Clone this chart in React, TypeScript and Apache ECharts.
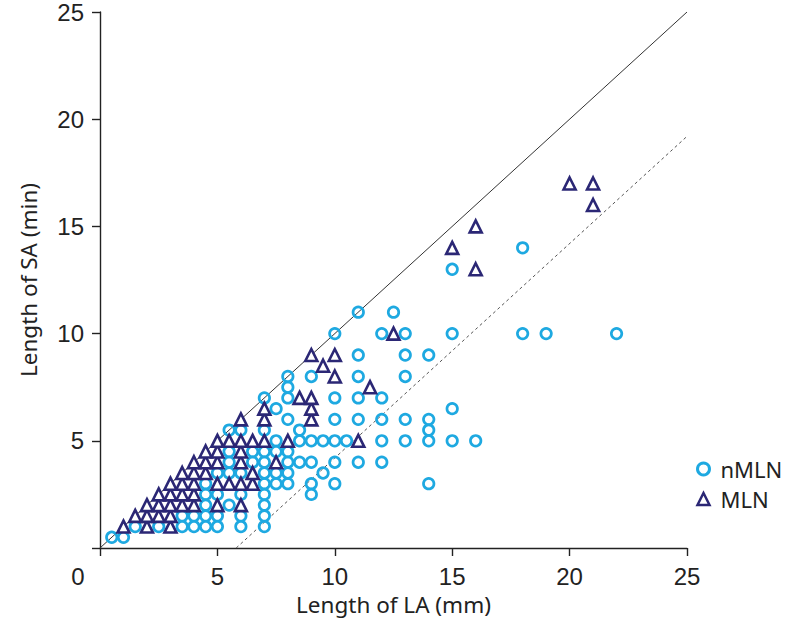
import React, { useEffect, useRef } from 'react';
import * as echarts from 'echarts';

const axisTicks = [0, 5, 10, 15, 20, 25];

// nMLN (circles): [Length of LA (mm), Length of SA (min)]
const nmlnPoints: [number, number][] = [
  [0.5, 0.5], [1, 0.5],
  [1.5, 1], [2.5, 1], [3.5, 1], [4, 1], [4.5, 1], [5, 1], [6, 1], [7, 1],
  [3.5, 1.5], [4, 1.5], [4.5, 1.5], [5, 1.5], [6, 1.5], [7, 1.5],
  [4.5, 2], [5.5, 2], [7, 2],
  [4.5, 2.5], [5, 2.5], [6, 2.5], [7, 2.5], [9, 2.5],
  [4.5, 3], [7, 3], [7.5, 3], [8, 3], [9, 3], [10, 3], [14, 3],
  [5, 3.5], [5.5, 3.5], [6, 3.5], [7, 3.5], [7.5, 3.5], [8, 3.5], [9.5, 3.5],
  [5.5, 4], [6.5, 4], [7, 4], [8, 4], [8.5, 4], [9, 4], [10, 4], [11, 4], [12, 4],
  [5.5, 4.5], [6.5, 4.5], [7, 4.5], [7.5, 4.5], [8, 4.5],
  [7.5, 5], [8.5, 5], [9, 5], [9.5, 5], [10, 5], [10.5, 5], [12, 5], [13, 5], [14, 5], [15, 5], [16, 5],
  [5.5, 5.5], [6, 5.5], [7, 5.5], [8.5, 5.5], [14, 5.5],
  [8, 6], [10, 6], [11, 6], [12, 6], [13, 6], [14, 6],
  [7.5, 6.5], [15, 6.5],
  [7, 7], [8, 7], [10, 7], [11, 7], [12, 7],
  [8, 7.5],
  [8, 8], [9, 8], [11, 8], [13, 8],
  [11, 9], [13, 9], [14, 9],
  [10, 10], [12, 10], [13, 10], [15, 10], [18, 10], [19, 10], [22, 10],
  [11, 11], [12.5, 11],
  [15, 13],
  [18, 14],
];

// MLN (triangles)
const mlnPoints: [number, number][] = [
  [1, 1], [2, 1], [3, 1],
  [1.5, 1.5], [2, 1.5], [2.5, 1.5], [3, 1.5],
  [2, 2], [2.5, 2], [3, 2], [3.5, 2], [4, 2], [5, 2], [6, 2],
  [2.5, 2.5], [3, 2.5], [3.5, 2.5], [4, 2.5],
  [3, 3], [3.5, 3], [4, 3], [5, 3], [5.5, 3], [6, 3], [6.5, 3],
  [3.5, 3.5], [4, 3.5], [4.5, 3.5], [6.5, 3.5],
  [4, 4], [4.5, 4], [5, 4], [6, 4], [7.5, 4],
  [4.5, 4.5], [5, 4.5], [6, 4.5],
  [5, 5], [5.5, 5], [6, 5], [6.5, 5], [7, 5], [8, 5], [11, 5],
  [6, 6], [7, 6], [9, 6],
  [7, 6.5], [9, 6.5],
  [8.5, 7], [9, 7],
  [11.5, 7.5],
  [10, 8],
  [9.5, 8.5],
  [9, 9], [10, 9],
  [12.5, 10],
  [16, 13],
  [15, 14],
  [16, 15],
  [21, 16],
  [20, 17], [21, 17],
];

const identityLine: [number, number][] = [[0, 0], [25, 25]];
const offsetLine: [number, number][] = [[5.8, 0], [25, 19.2]];

const CIRCLE_COLOR = '#1EA9E1';
const TRIANGLE_COLOR = '#2B2775';
const TEXT_COLOR = '#222';

export default function App() {
  const ref = useRef<HTMLDivElement>(null);
  useEffect(() => {
    const chart = echarts.init(ref.current!, null, { renderer: 'svg' });
    const axisCommon = {
      type: 'value',
      min: axisTicks[0],
      max: axisTicks[axisTicks.length - 1],
      interval: axisTicks[1] - axisTicks[0],
      splitLine: { show: false },
      axisLine: { show: true, onZero: false, lineStyle: { color: '#222', width: 1.4 } },
      axisTick: { show: true, inside: false, length: 8, lineStyle: { color: '#222', width: 1.4 } },
      axisLabel: {
        fontSize: 24,
        fontFamily: 'Liberation Sans',
        color: TEXT_COLOR,
        margin: 16,
        formatter: (v: number) => (v === 0 ? '' : String(v)),
      },
      nameTextStyle: { fontSize: 22.5, fontFamily: 'Noto Sans', color: TEXT_COLOR },
      nameLocation: 'middle',
    };
    chart.setOption({
      animation: false,
      backgroundColor: '#fff',
      grid: { left: 100, right: 100, top: 10, bottom: 85 },
      xAxis: { ...axisCommon, name: 'Length of LA (mm)', nameGap: 45 },
      yAxis: { ...axisCommon, name: 'Length of SA (min)', nameGap: 60 },
      legend: {
        orient: 'vertical',
        left: 691,
        top: 453,
        itemWidth: 12,
        itemHeight: 12,
        itemGap: 8,
        textStyle: { fontSize: 22, fontFamily: 'Noto Sans', color: TEXT_COLOR, padding: [0, 0, 0, 6] },
        data: [
          { name: 'nMLN', icon: 'circle', itemStyle: { borderWidth: 3 } },
          { name: 'MLN', icon: 'triangle', itemStyle: { borderWidth: 2.5 } },
        ],
      },
      graphic: [
        {
          type: 'text',
          x: 78,
          y: 576,
          style: {
            text: '0',
            fontSize: 24,
            fontFamily: 'Liberation Sans',
            fill: TEXT_COLOR,
            align: 'center',
            verticalAlign: 'middle',
          },
        },
      ],
      series: [
        {
          type: 'line',
          data: identityLine,
          symbol: 'none',
          silent: true,
          z: 1,
          lineStyle: { color: '#333', width: 1 },
        },
        {
          type: 'line',
          data: offsetLine,
          symbol: 'none',
          silent: true,
          z: 1,
          lineStyle: { color: '#555', width: 1, type: [3, 3] },
        },
        {
          name: 'nMLN',
          type: 'scatter',
          data: nmlnPoints,
          symbol: 'circle',
          symbolSize: 10.5,
          z: 2,
          itemStyle: { color: 'rgba(255,255,255,0)', borderColor: CIRCLE_COLOR, borderWidth: 2.7, opacity: 1 },
        },
        {
          name: 'MLN',
          type: 'scatter',
          data: mlnPoints,
          symbol: 'triangle',
          symbolSize: 12,
          z: 3,
          itemStyle: { color: '#fff', borderColor: TRIANGLE_COLOR, borderWidth: 2.6, opacity: 1 },
        },
      ],
    });
    return () => chart.dispose();
  }, []);
  return <div ref={ref} style={{ position: 'absolute', left: 0, top: 0, width: 787, height: 633 }} />;
}
